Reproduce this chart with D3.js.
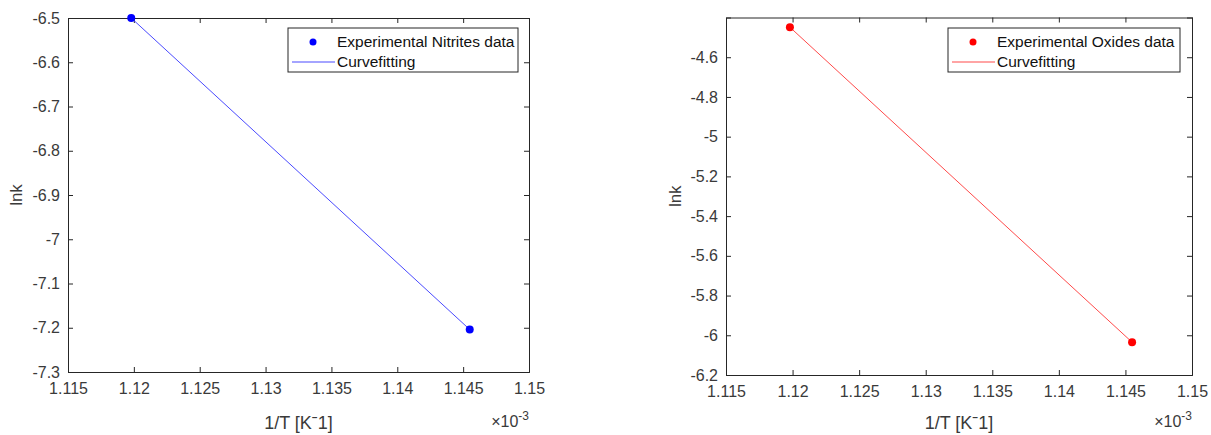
<!DOCTYPE html>
<html>
<head>
<meta charset="utf-8">
<script src="https://cdn.jsdelivr.net/npm/d3@7"></script>
<style>
  body { margin: 0; background: #fff; }
  svg text { font-family: "Liberation Sans", Arial, sans-serif; fill: #3a3a3a; }
</style>
</head>
<body>
<div id="graph"></div>
<script>
// values (x in units of 1e-3 K^-1)
let nitritesX = [1.1198, 1.1455];
let nitritesY = [-6.5, -7.204];
let oxidesX = [1.1198, 1.1455];
let oxidesY = [-4.449, -6.035];

let xTicks = [1.115, 1.12, 1.125, 1.13, 1.135, 1.14, 1.145, 1.15];
let nitritesTicks = [-7.3, -7.2, -7.1, -7, -6.9, -6.8, -6.7, -6.6, -6.5];
let oxidesTicks = [-6.2, -6, -5.8, -5.6, -5.4, -5.2, -5, -4.8, -4.6];

let svg = d3.select("#graph")
    .append("svg")
    .attr("width", 1211)
    .attr("height", 435);

function drawPanel(opt) {
    let w = opt.right - opt.left;
    let h = opt.bottom - opt.top;
    let g = svg.append("g")
        .attr("transform", `translate(${opt.left},${opt.top})`);

    let x = d3.scaleLinear().domain([1.115, 1.15]).range([0, w]);
    let y = d3.scaleLinear().domain(opt.yDomain).range([h, 0]);

    // axes with inward ticks on all four sides
    g.append("g")
        .attr("transform", `translate(0,${h})`)
        .call(d3.axisBottom(x).tickValues(xTicks).tickSize(-5).tickPadding(11).tickFormat(d => +d.toFixed(3)))
        .call(a => a.selectAll("text").style("font-size", "16px"));
    g.append("g")
        .call(d3.axisTop(x).tickValues(xTicks).tickSize(-5).tickFormat(""));
    g.append("g")
        .call(d3.axisLeft(y).tickValues(opt.yTicks).tickSize(-5).tickPadding(8).tickFormat(d => +d.toFixed(1)))
        .call(a => a.selectAll("text").style("font-size", "16px"));
    g.append("g")
        .attr("transform", `translate(${w},0)`)
        .call(d3.axisRight(y).tickValues(opt.yTicks).tickSize(-5).tickFormat(""));
    g.selectAll(".domain, .tick line").attr("stroke", "#262626");

    let pts = opt.xs.map((v, i) => [v, opt.ys[i]]);

    g.append("path")
        .datum(pts)
        .attr("fill", "none")
        .attr("stroke", opt.lineColor)
        .attr("stroke-width", 1)
        .attr("d", d3.line().x(d => x(d[0])).y(d => y(d[1])));

    g.selectAll("circle.pt")
        .data(pts)
        .enter()
        .append("circle")
        .attr("class", "pt")
        .attr("cx", d => x(d[0]))
        .attr("cy", d => y(d[1]))
        .attr("r", 4)
        .attr("fill", opt.color);

    // axis labels
    g.append("text")
        .attr("transform", `translate(${w / 2}, ${opt.bottomPad + 57})`)
        .style("text-anchor", "middle")
        .style("font-size", "18px")
        .text("1/T [Kˉ1]");
    g.append("text")
        .attr("transform", `translate(${opt.yLabelX}, ${h / 2}) rotate(-90)`)
        .style("text-anchor", "middle")
        .style("font-size", "17px")
        .text("lnk");

    let ex = g.append("text")
        .attr("x", w)
        .attr("y", opt.bottomPad + 55)
        .style("text-anchor", "end")
        .style("font-size", "16px");
    ex.append("tspan").text("×10");
    ex.append("tspan").attr("dy", -7).style("font-size", "12px").text("-3");

    // legend
    let lg = g.append("g")
        .attr("transform", `translate(${opt.legendX - opt.left}, ${28 - opt.top})`);
    lg.append("rect")
        .attr("width", opt.legendW)
        .attr("height", 44)
        .attr("fill", "#fff")
        .attr("stroke", "#262626")
        .attr("stroke-width", 1);
    lg.append("circle")
        .attr("cx", 25).attr("cy", 14).attr("r", 3.5)
        .attr("fill", opt.color);
    lg.append("line")
        .attr("x1", 4).attr("x2", 47).attr("y1", 34).attr("y2", 34)
        .attr("stroke", opt.lineColor).attr("stroke-width", 1.2);
    lg.append("text")
        .attr("x", 49).attr("y", 19)
        .style("font-size", "15.5px")
        .style("fill", "#111")
        .text(opt.name);
    lg.append("text")
        .attr("x", 49).attr("y", 39)
        .style("font-size", "15.5px")
        .style("fill", "#111")
        .text("Curvefitting");
}

drawPanel({
    left: 68, right: 529, top: 18, bottom: 372, bottomPad: 354,
    yDomain: [-7.3, -6.5], yTicks: nitritesTicks,
    xs: nitritesX, ys: nitritesY,
    color: "#0000ff", lineColor: "#4a4aff",
    name: "Experimental Nitrites data",
    legendX: 288, legendW: 230, yLabelX: -46
});

drawPanel({
    left: 726, right: 1192, top: 17.5, bottom: 375, bottomPad: 354,
    yDomain: [-6.2, -4.4], yTicks: oxidesTicks,
    xs: oxidesX, ys: oxidesY,
    color: "#ff0000", lineColor: "#ff4a4a",
    name: "Experimental Oxides data",
    legendX: 948, legendW: 232, yLabelX: -45
});
</script>
</body>
</html>
